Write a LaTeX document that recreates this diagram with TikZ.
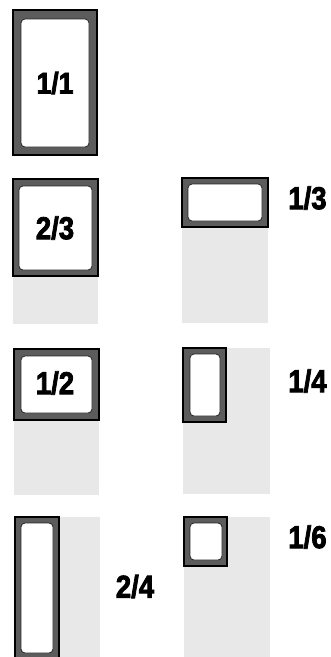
\documentclass[tikz,border=0pt]{standalone}
\usepackage{fontspec}
\setmainfont{Liberation Sans}
\newcommand\heavytext[1]{\special{pdf:literal direct 2 Tr 0.28 w}#1\special{pdf:literal direct 0 Tr}}
\newcommand\panlabel[1]{\scalebox{2.75}[3.15]{\heavytext{#1}}}
\newcommand\panlabelbig[1]{\scalebox{2.65}[3.0]{\heavytext{#1}}}
\begin{document}
\begin{tikzpicture}[x=1pt,y=-1pt,
  tray/.style={fill=gray!18,draw=none},
  pan/.style={draw=black,line width=1.2pt,fill=black!64},
  well/.style={fill=white,draw=black!85,line width=0.8pt,rounded corners=4pt},
  lbl/.style={inner sep=0pt,font=\bfseries}]
\useasboundingbox (0,0) rectangle (330,657);
% 1/1
\draw[pan] (13,10) rectangle (97,155);
\draw[well] (21,19) rectangle (89,147);
\node[lbl] (l11) at (55,83) {\panlabelbig{1/1}};
% 2/3
\fill[tray] (13,179) rectangle (98,324);
\draw[pan] (13,179) rectangle (98,276);
\draw[well] (19,186) rectangle (92,270);
\node[lbl] (l23) at (55,228) {\panlabel{2/3}};
% 1/3
\fill[tray] (182,178) rectangle (268,323);
\draw[pan] (182,178) rectangle (268,227);
\draw[well] (188,184) rectangle (262,221);
\node[lbl] (l13) at (307.5,198) {\panlabel{1/3}};
% 1/2
\fill[tray] (14,349) rectangle (99,495);
\draw[pan] (14,349) rectangle (99,420);
\draw[well] (21,356) rectangle (92,413);
\node[lbl] (l12) at (55,383) {\panlabel{1/2}};
% 1/4
\fill[tray] (183,348) rectangle (270,494);
\draw[pan] (183,348) rectangle (226,422);
\draw[well] (190,354) rectangle (220,416);
\node[lbl] (l14) at (307.5,381) {\panlabel{1/4}};
% 2/4
\fill[tray] (15,517) rectangle (100,657);
\draw[pan] (15,517) rectangle (59,660);
\draw[well] (21,523) rectangle (53,653);
\node[lbl] (l24) at (135,586.5) {\panlabel{2/4}};
% 1/6
\fill[tray] (184,517) rectangle (270,657);
\draw[pan] (184,517) rectangle (227,566);
\draw[well] (190,523) rectangle (222,560);
\node[lbl] (l16) at (307.5,537) {\panlabel{1/6}};
\end{tikzpicture}
\end{document}
